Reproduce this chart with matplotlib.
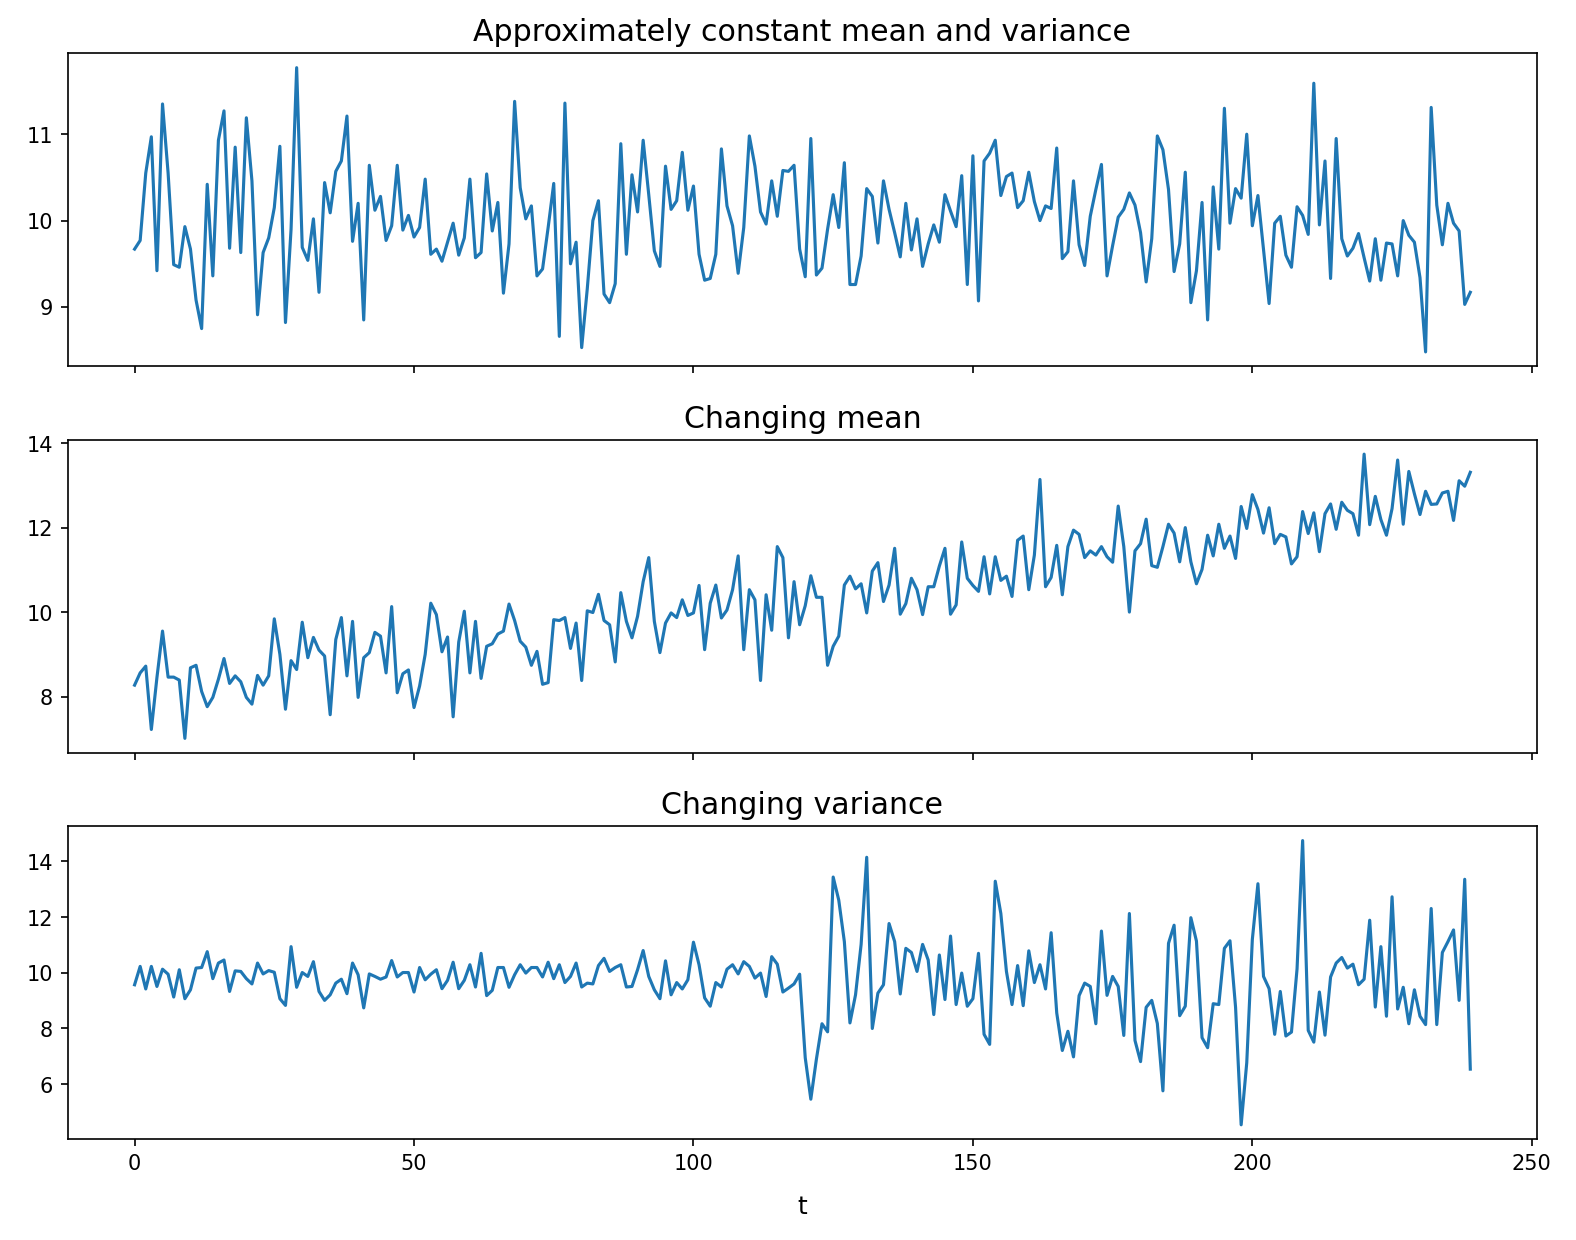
import matplotlib
matplotlib.use("Agg")
import matplotlib.pyplot as plt
import numpy as np

# values, t = 0..239
constant = [
    9.67, 9.77, 10.55, 10.97, 9.42, 11.35, 10.55, 9.49, 9.46, 9.93,
    9.67, 9.08, 8.75, 10.42, 9.36, 10.93, 11.27, 9.68, 10.85, 9.63,
    11.19, 10.46, 8.91, 9.63, 9.80, 10.15, 10.86, 8.82, 9.90, 11.77,
    9.69, 9.54, 10.02, 9.17, 10.44, 10.09, 10.57, 10.69, 11.21, 9.76,
    10.20, 8.85, 10.64, 10.12, 10.28, 9.77, 9.94, 10.64, 9.89, 10.06,
    9.81, 9.92, 10.48, 9.61, 9.67, 9.53, 9.75, 9.97, 9.60, 9.80,
    10.48, 9.57, 9.63, 10.54, 9.88, 10.21, 9.16, 9.73, 11.38, 10.38,
    10.02, 10.17, 9.36, 9.44, 9.92, 10.43, 8.66, 11.36, 9.50, 9.75,
    8.53, 9.21, 10.00, 10.23, 9.15, 9.05, 9.27, 10.89, 9.61, 10.53,
    10.10, 10.93, 10.30, 9.65, 9.47, 10.63, 10.13, 10.23, 10.79, 10.12,
    10.40, 9.61, 9.31, 9.33, 9.61, 10.83, 10.17, 9.94, 9.39, 9.92,
    10.98, 10.63, 10.10, 9.96, 10.46, 10.05, 10.58, 10.57, 10.64, 9.67,
    9.35, 10.95, 9.37, 9.45, 9.90, 10.30, 9.92, 10.67, 9.26, 9.26,
    9.59, 10.37, 10.28, 9.74, 10.46, 10.13, 9.86, 9.58, 10.20, 9.66,
    10.02, 9.47, 9.73, 9.95, 9.75, 10.30, 10.11, 9.93, 10.52, 9.26,
    10.75, 9.07, 10.69, 10.78, 10.93, 10.29, 10.51, 10.55, 10.15, 10.23,
    10.56, 10.22, 10.00, 10.17, 10.14, 10.84, 9.56, 9.64, 10.46, 9.72,
    9.48, 10.05, 10.36, 10.65, 9.36, 9.71, 10.04, 10.13, 10.32, 10.18,
    9.86, 9.29, 9.79, 10.98, 10.82, 10.36, 9.41, 9.73, 10.56, 9.05,
    9.42, 10.21, 8.85, 10.39, 9.67, 11.30, 9.97, 10.37, 10.26, 11.00,
    9.94, 10.29, 9.67, 9.04, 9.97, 10.05, 9.60, 9.46, 10.16, 10.06,
    9.84, 11.59, 9.95, 10.69, 9.33, 10.95, 9.79, 9.59, 9.68, 9.85,
    9.57, 9.30, 9.79, 9.31, 9.74, 9.73, 9.36, 10.00, 9.83, 9.75,
    9.34, 8.48, 11.31, 10.18, 9.72, 10.20, 9.97, 9.88, 9.03, 9.17,
]

trend = [
    8.27, 8.56, 8.72, 7.22, 8.45, 9.55, 8.46, 8.46, 8.39, 7.01,
    8.68, 8.74, 8.12, 7.76, 7.98, 8.41, 8.90, 8.31, 8.49, 8.35,
    7.98, 7.82, 8.50, 8.27, 8.49, 9.84, 9.00, 7.70, 8.85, 8.64,
    9.76, 8.92, 9.40, 9.10, 8.96, 7.57, 9.35, 9.87, 8.49, 9.78,
    7.98, 8.92, 9.04, 9.52, 9.43, 8.56, 10.13, 8.09, 8.54, 8.63,
    7.74, 8.25, 9.00, 10.21, 9.94, 9.06, 9.41, 7.52, 9.29, 10.02,
    8.56, 9.78, 8.43, 9.19, 9.25, 9.48, 9.55, 10.19, 9.80, 9.31,
    9.17, 8.74, 9.07, 8.29, 8.33, 9.82, 9.80, 9.87, 9.14, 9.74,
    8.38, 10.03, 9.99, 10.42, 9.80, 9.70, 8.82, 10.46, 9.78, 9.39,
    9.90, 10.72, 11.29, 9.78, 9.04, 9.74, 9.98, 9.87, 10.29, 9.92,
    9.98, 10.63, 9.11, 10.21, 10.64, 9.86, 10.05, 10.53, 11.33, 9.11,
    10.53, 10.29, 8.38, 10.41, 9.57, 11.55, 11.29, 9.39, 10.72, 9.70,
    10.15, 10.86, 10.35, 10.35, 8.74, 9.19, 9.43, 10.64, 10.85, 10.55,
    10.67, 9.98, 10.97, 11.17, 10.25, 10.64, 11.51, 9.95, 10.20, 10.80,
    10.53, 9.94, 10.60, 10.60, 11.09, 11.51, 9.95, 10.17, 11.66, 10.80,
    10.63, 10.49, 11.31, 10.43, 11.31, 10.75, 10.85, 10.37, 11.70, 11.80,
    10.53, 11.35, 13.14, 10.60, 10.82, 11.58, 10.41, 11.55, 11.94, 11.84,
    11.29, 11.45, 11.35, 11.55, 11.31, 11.18, 12.51, 11.55, 10.00, 11.45,
    11.62, 12.20, 11.10, 11.06, 11.55, 12.08, 11.87, 11.19, 12.00, 11.19,
    10.67, 11.01, 11.82, 11.33, 12.08, 11.51, 11.80, 11.27, 12.50, 11.98,
    12.78, 12.43, 11.87, 12.47, 11.62, 11.84, 11.78, 11.14, 11.31, 12.38,
    11.86, 12.35, 11.43, 12.33, 12.56, 11.96, 12.60, 12.41, 12.33, 11.82,
    13.74, 12.07, 12.74, 12.19, 11.82, 12.45, 13.60, 12.08, 13.33, 12.80,
    12.31, 12.86, 12.55, 12.56, 12.82, 12.86, 12.17, 13.11, 12.98, 13.31,
]

spread = [
    9.57, 10.23, 9.42, 10.23, 9.51, 10.13, 9.95, 9.13, 10.11, 9.07,
    9.39, 10.17, 10.19, 10.76, 9.79, 10.35, 10.46, 9.33, 10.07, 10.05,
    9.79, 9.60, 10.35, 9.96, 10.08, 10.02, 9.07, 8.83, 10.94, 9.48,
    10.01, 9.87, 10.40, 9.33, 9.01, 9.21, 9.63, 9.77, 9.25, 10.35,
    9.93, 8.74, 9.96, 9.87, 9.77, 9.85, 10.44, 9.85, 10.01, 10.01,
    9.31, 10.19, 9.75, 9.95, 10.11, 9.43, 9.73, 10.38, 9.43, 9.73,
    10.29, 9.49, 10.70, 9.18, 9.37, 10.19, 10.19, 9.48, 9.93, 10.29,
    9.99, 10.19, 10.19, 9.85, 10.38, 9.79, 10.29, 9.65, 9.87, 10.35,
    9.49, 9.63, 9.60, 10.26, 10.52, 10.05, 10.19, 10.29, 9.49, 9.51,
    10.11, 10.80, 9.87, 9.39, 9.07, 10.43, 9.21, 9.65, 9.42, 9.75,
    11.10, 10.29, 9.10, 8.80, 9.65, 9.49, 10.13, 10.29, 9.96, 10.40,
    10.23, 9.81, 9.99, 9.15, 10.58, 10.31, 9.31, 9.45, 9.60, 9.95,
    6.95, 5.46, 6.90, 8.17, 7.88, 13.44, 12.61, 11.12, 8.20, 9.21,
    11.02, 14.15, 8.00, 9.27, 9.57, 11.77, 11.12, 9.24, 10.88, 10.73,
    10.05, 11.02, 10.46, 8.50, 10.64, 9.04, 11.32, 8.86, 9.99, 8.80,
    9.07, 10.70, 7.79, 7.43, 13.29, 12.13, 10.05, 8.86, 10.26, 8.82,
    10.79, 9.65, 10.29, 9.42, 11.44, 8.56, 7.21, 7.90, 6.98, 9.18,
    9.63, 9.51, 8.17, 11.50, 9.19, 9.87, 9.51, 7.75, 12.13, 7.57,
    6.81, 8.76, 9.01, 8.18, 5.76, 11.06, 11.71, 8.46, 8.80, 11.98,
    11.14, 7.67, 7.31, 8.89, 8.86, 10.88, 11.15, 8.76, 4.54, 6.77,
    11.20, 13.20, 9.87, 9.43, 7.79, 9.33, 7.73, 7.87, 10.14, 14.75,
    7.93, 7.51, 9.31, 7.76, 9.85, 10.35, 10.55, 10.17, 10.31, 9.57,
    9.77, 11.89, 8.77, 10.94, 8.44, 12.73, 8.70, 9.48, 8.17, 9.39,
    8.44, 8.14, 12.31, 8.14, 10.73, 11.12, 11.54, 9.01, 13.36, 6.54,
]

titles = ["Approximately constant mean and variance", "Changing mean", "Changing variance"]

t = np.arange(len(constant))

fig, axes = plt.subplots(3, 1, figsize=(10.51, 8.27), sharex=True)
for ax, series, title in zip(axes, [constant, trend, spread], titles):
    ax.plot(t, series)
    ax.set_title(title, fontsize=14.4)
axes[-1].set_xlabel("t", fontsize=12, labelpad=10)

fig.subplots_adjust(left=0.043, right=0.975, top=0.9565, bottom=0.0814, hspace=0.236)
fig.savefig("out.png", dpi=150)
